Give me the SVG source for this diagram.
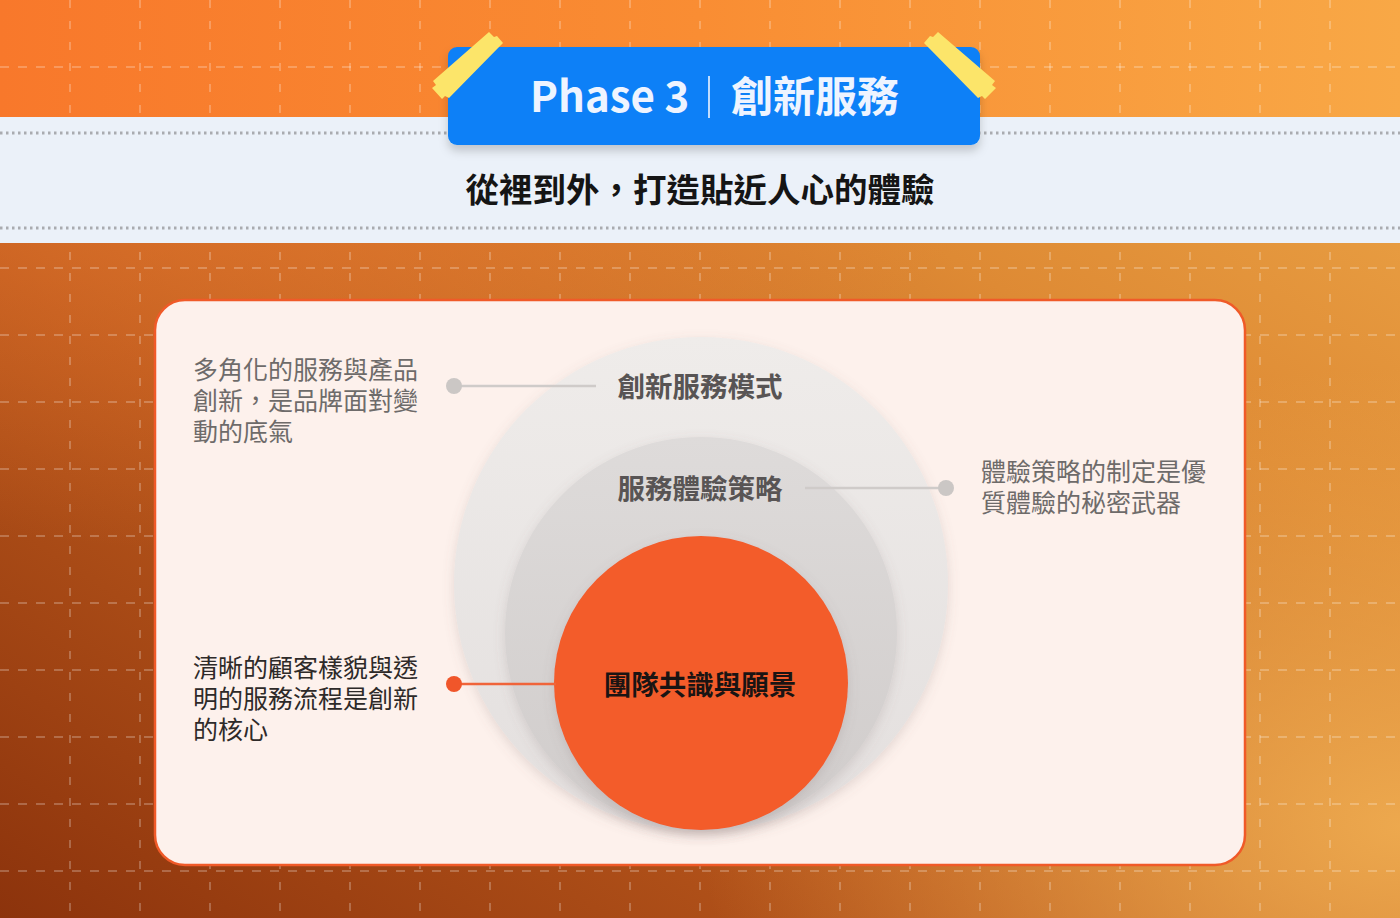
<svg xmlns="http://www.w3.org/2000/svg" width="1400" height="918" viewBox="0 0 1400 918">
  <defs>
    <linearGradient id="bgTop" x1="0" y1="0" x2="1" y2="0">
      <stop offset="0" stop-color="#F8782B"/>
      <stop offset="0.5" stop-color="#F98D33"/>
      <stop offset="1" stop-color="#F8A846"/>
    </linearGradient>
    <linearGradient id="bgBot" x1="0" y1="1" x2="1" y2="0">
      <stop offset="0" stop-color="#8C330C"/>
      <stop offset="0.35" stop-color="#B9581C"/>
      <stop offset="0.7" stop-color="#DE8A34"/>
      <stop offset="1" stop-color="#EEA94A"/>
    </linearGradient>
    <radialGradient id="glowTop" cx="0.15" cy="0" r="0.6">
      <stop offset="0" stop-color="#EE7A30" stop-opacity="0.8"/>
      <stop offset="1" stop-color="#EE7A30" stop-opacity="0"/>
    </radialGradient>
    <radialGradient id="glowRight" cx="1" cy="0.9" r="0.5">
      <stop offset="0" stop-color="#F0AE52" stop-opacity="0.9"/>
      <stop offset="1" stop-color="#F0AE52" stop-opacity="0"/>
    </radialGradient>
    <linearGradient id="outerG" x1="0" y1="0" x2="0" y2="1">
      <stop offset="0" stop-color="#EFECEA"/>
      <stop offset="1" stop-color="#E3DFDE"/>
    </linearGradient>
    <linearGradient id="midG" x1="0" y1="0" x2="0" y2="1">
      <stop offset="0" stop-color="#DEDBDA"/>
      <stop offset="1" stop-color="#D0CCCB"/>
    </linearGradient>
    <filter id="boxShadow" x="-10%" y="-20%" width="120%" height="160%">
      <feDropShadow dx="0" dy="6" stdDeviation="5" flood-color="#000000" flood-opacity="0.18"/>
    </filter>
    <filter id="circShadow" x="-20%" y="-20%" width="140%" height="140%">
      <feDropShadow dx="0" dy="4" stdDeviation="6" flood-color="#7A6A66" flood-opacity="0.2"/>
    </filter>
    <style>
      .grid-v { stroke: #FFFFFF; stroke-opacity: 0.32; stroke-width: 1.5; stroke-dasharray: 8 13; }
      .grid-h { stroke: #FFFFFF; stroke-opacity: 0.32; stroke-width: 1.5; stroke-dasharray: 9 9; }
      .dots { stroke: #A9ABB0; stroke-width: 3; stroke-dasharray: 2.5 3.5; }
      .cjk { font-family: "Noto Sans CJK TC", "Noto Sans CJK SC", "Noto Sans", sans-serif; }
      .title { font-size: 42px; font-weight: 700; fill: #EEF4FF; }
      .subtitle { font-size: 33.5px; font-weight: 700; fill: #151515; }
      .ring-label { font-size: 27.5px; font-weight: 700; fill: #585454; text-anchor: middle; }
      .core-label { font-size: 27.5px; font-weight: 700; fill: #1A1413; text-anchor: middle; }
      .note { font-size: 25px; font-weight: 400; fill: #6E6B6A; }
      .note-dark { font-size: 25px; font-weight: 400; fill: #2E2A29; }
      .tape { fill: #FCE56A; }
      .line-gray { stroke: #CFCBC9; stroke-width: 2.5; }
      .line-orange { stroke: #F0643A; stroke-width: 2.5; }
    </style>
  </defs>

  <!-- Background -->
  <rect x="0" y="0" width="1400" height="918" fill="url(#bgBot)"/>
  <rect x="0" y="0" width="1400" height="918" fill="url(#glowTop)"/>
  <rect x="0" y="0" width="1400" height="918" fill="url(#glowRight)"/>
  <rect x="0" y="0" width="1400" height="118" fill="url(#bgTop)"/>

  <!-- Grid -->
  <g id="grid">
    <g class="grid-v">
      <line x1="70" y1="0" x2="70" y2="918"/>
      <line x1="140" y1="0" x2="140" y2="918"/>
      <line x1="210" y1="0" x2="210" y2="918"/>
      <line x1="280" y1="0" x2="280" y2="918"/>
      <line x1="350" y1="0" x2="350" y2="918"/>
      <line x1="420" y1="0" x2="420" y2="918"/>
      <line x1="490" y1="0" x2="490" y2="918"/>
      <line x1="560" y1="0" x2="560" y2="918"/>
      <line x1="630" y1="0" x2="630" y2="918"/>
      <line x1="700" y1="0" x2="700" y2="918"/>
      <line x1="770" y1="0" x2="770" y2="918"/>
      <line x1="840" y1="0" x2="840" y2="918"/>
      <line x1="910" y1="0" x2="910" y2="918"/>
      <line x1="980" y1="0" x2="980" y2="918"/>
      <line x1="1050" y1="0" x2="1050" y2="918"/>
      <line x1="1120" y1="0" x2="1120" y2="918"/>
      <line x1="1190" y1="0" x2="1190" y2="918"/>
      <line x1="1260" y1="0" x2="1260" y2="918"/>
      <line x1="1330" y1="0" x2="1330" y2="918"/>
    </g>
    <g class="grid-h">
      <line x1="0" y1="67" x2="1400" y2="67"/>
      <line x1="0" y1="268" x2="1400" y2="268"/>
      <line x1="0" y1="335" x2="1400" y2="335"/>
      <line x1="0" y1="402" x2="1400" y2="402"/>
      <line x1="0" y1="469" x2="1400" y2="469"/>
      <line x1="0" y1="536" x2="1400" y2="536"/>
      <line x1="0" y1="603" x2="1400" y2="603"/>
      <line x1="0" y1="670" x2="1400" y2="670"/>
      <line x1="0" y1="737" x2="1400" y2="737"/>
      <line x1="0" y1="804" x2="1400" y2="804"/>
      <line x1="0" y1="871" x2="1400" y2="871"/>
    </g>
  </g>

  <!-- Subtitle band -->
  <g id="band">
    <rect x="0" y="117" width="1400" height="126" fill="#EBF1F9"/>
    <line class="dots" x1="0" y1="133" x2="1400" y2="133"/>
    <line class="dots" x1="0" y1="228" x2="1400" y2="228"/>
    <text class="cjk subtitle" x="700" y="202" text-anchor="middle">從裡到外，打造貼近人心的體驗</text>
  </g>

  <!-- Title box -->
  <g id="title">
    <rect x="448" y="47" width="532" height="98" rx="9" fill="#0B80F7" filter="url(#boxShadow)"/>
    <text class="cjk title" x="530" y="112">Phase 3</text>
    <line x1="709" y1="76" x2="709" y2="118" stroke="#EEF4FF" stroke-width="1.6"/>
    <text class="cjk title" x="731" y="112">創新服務</text>
    <polygon class="tape" points="489,32 494,37 497,36 503,43 500,46 449,98 445,96 442,99 432,88 436,85 433,81"/>
    <polygon class="tape" points="938,32 933,37 930,36 924,43 927,46 978,98 982,96 985,99 996,88 992,85 995,81"/>
  </g>

  <!-- Card -->
  <g id="card">
    <rect x="155" y="300" width="1090" height="565" rx="30" fill="#FDF1EC" stroke="#F05A28" stroke-width="2.5"/>
  </g>

  <!-- Circles -->
  <g id="node-outer">
    <circle cx="701" cy="584" r="247" fill="url(#outerG)" filter="url(#circShadow)"/>
    <text class="cjk ring-label" x="700" y="397">創新服務模式</text>
  </g>
  <g id="node-middle">
    <circle cx="701" cy="633" r="196" fill="url(#midG)" filter="url(#circShadow)"/>
    <text class="cjk ring-label" x="700" y="499">服務體驗策略</text>
  </g>
  <g id="node-core">
    <circle cx="701" cy="683" r="147" fill="#F35B2C" filter="url(#circShadow)"/>
    <text class="cjk core-label" x="700" y="695">團隊共識與願景</text>
  </g>

  <!-- Connectors -->
  <g id="connectors">
    <line class="line-gray" x1="454" y1="386" x2="596" y2="386"/>
    <circle cx="454" cy="386" r="8" fill="#CBC7C5"/>
    <line class="line-gray" x1="805" y1="488" x2="946" y2="488"/>
    <circle cx="946" cy="488" r="8" fill="#CBC7C5"/>
    <line class="line-orange" x1="454" y1="684" x2="556" y2="684"/>
    <circle cx="454" cy="684" r="8" fill="#F0562A"/>
  </g>

  <!-- Notes -->
  <g id="note-outer">
    <text class="cjk note" x="193" y="379"><tspan x="193" y="379">多角化的服務與產品</tspan><tspan x="193" y="410">創新，是品牌面對變</tspan><tspan x="193" y="441">動的底氣</tspan></text>
  </g>
  <g id="note-middle">
    <text class="cjk note" x="981" y="481"><tspan x="981" y="481">體驗策略的制定是優</tspan><tspan x="981" y="512">質體驗的秘密武器</tspan></text>
  </g>
  <g id="note-core">
    <text class="cjk note-dark" x="193" y="677"><tspan x="193" y="677">清晰的顧客樣貌與透</tspan><tspan x="193" y="708">明的服務流程是創新</tspan><tspan x="193" y="739">的核心</tspan></text>
  </g>
</svg>
